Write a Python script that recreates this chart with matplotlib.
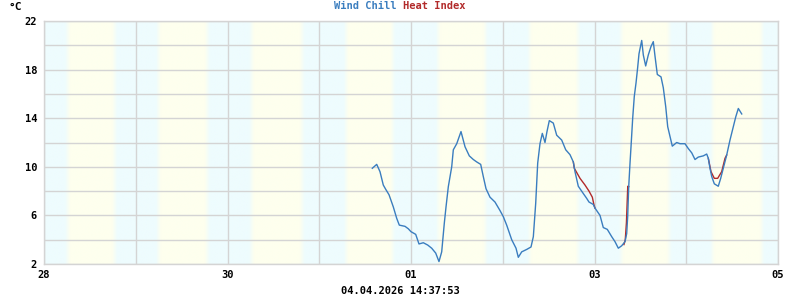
import numpy as np
import matplotlib
matplotlib.use("Agg")
import matplotlib.pyplot as plt

# ---------------- data ----------------
# time axis: hours since 28.03.2026 00:00
day_tick_hours = [0, 48, 96, 144, 192]
day_tick_labels = ["28", "30", "01", "03", "05"]
y_tick_values = [2, 6, 10, 14, 18, 22]

# sunrise / sunset (hour of day) for each of the 8 days shown
sunrise_h = [6.15, 5.9, 6.3, 7.0, 7.1, 7.0, 7.05, 6.9]
sunset_h = [18.45, 18.7, 19.55, 19.25, 19.5, 19.7, 19.6, 19.9]

wind_chill_t = [85.88, 87.03, 87.89, 88.75, 89.38, 90.25, 91.37, 92.26, 92.94, 94.43,
                95.29, 96.0, 97.23, 98.09, 99.22, 100.37, 101.41, 102.46, 103.32, 104.03,
                104.71, 105.16, 105.76, 106.65, 107.07, 107.96, 109.08, 110.13, 111.25, 112.30,
                113.19, 114.23, 114.91, 115.62, 116.66, 117.97, 119.28, 120.14, 121.03, 122.34,
                123.47, 124.07, 124.96, 126.27, 127.39, 128.0, 128.62, 129.14, 129.74, 130.35,
                131.05, 131.57, 132.18, 133.22, 134.11, 135.42, 136.47, 137.59, 138.46, 138.90,
                139.76, 141.07, 141.96, 142.56, 143.69, 144.13, 145.44, 146.30, 147.35, 148.50,
                149.36, 150.23, 151.11, 151.98, 152.42, 152.68, 152.95, 153.29, 153.55, 153.99,
                154.41, 154.86, 155.30, 155.64, 156.35, 156.77, 157.39, 158.07, 158.78, 159.38,
                159.83, 160.43, 161.40, 162.0, 162.63, 163.15, 163.75, 164.35, 165.50, 166.37,
                167.67, 168.54, 169.43, 170.29, 171.15, 172.46, 173.35, 173.77, 174.21, 174.66,
                175.34, 176.38, 177.01, 177.69, 178.58, 179.44, 180.31, 180.94, 181.62, 182.51]
wind_chill_v = [9.88, 10.2, 9.6, 8.5, 8.15, 7.7, 6.7, 5.76, 5.2, 5.1,
                4.9, 4.66, 4.44, 3.65, 3.75, 3.56, 3.3, 2.9, 2.2, 3.0,
                5.35, 6.7, 8.36, 10.0, 11.4, 11.9, 12.9, 11.65, 10.9, 10.6,
                10.4, 10.2, 9.2, 8.2, 7.5, 7.1, 6.4, 5.9, 5.2, 4.0,
                3.3, 2.55, 3.0, 3.2, 3.4, 4.25, 7.0, 10.3, 11.9, 12.75,
                12.0, 12.9, 13.8, 13.6, 12.6, 12.2, 11.4, 11.0, 10.4, 9.6,
                8.4, 7.8, 7.4, 7.1, 6.9, 6.6, 6.0, 5.0, 4.85, 4.25,
                3.84, 3.3, 3.5, 3.84, 4.5, 5.9, 8.36, 10.3, 11.65, 14.0,
                15.8, 16.9, 18.2, 19.3, 20.4, 19.2, 18.3, 19.2, 19.9, 20.3,
                19.1, 17.6, 17.4, 16.5, 14.95, 13.3, 12.5, 11.7, 12.0, 11.9,
                11.9, 11.5, 11.15, 10.6, 10.8, 10.9, 11.05, 10.7, 9.88, 9.2,
                8.6, 8.4, 9.05, 9.88, 10.97, 12.2, 13.3, 14.1, 14.8, 14.35]

# heat index where it departs from wind chill (NaN separates the pieces)
heat_index_t = [138.46, 138.72, 140.21, 141.51, 142.56, 143.43, 143.87, 144.13, np.nan,
                151.70, 152.05, 152.35, 152.70, 152.95, np.nan,
                173.77, 174.48, 175.34, 176.22, 177.27, 178.14, 178.58]
heat_index_v = [10.4, 9.88, 9.05, 8.5, 8.0, 7.5, 6.85, 6.6, np.nan,
                3.6, 4.0, 5.4, 8.4, 8.36, np.nan,
                10.7, 9.6, 9.05, 9.05, 9.6, 10.7, 10.97]

title_parts = ["Wind Chill", "Heat Index"]
unit_label = "°C"
timestamp = "04.04.2026 14:37:53"

# ---------------- style ----------------
BLUE = "#3a7dbf"
RED = "#b22a2a"
GRID = "#d4d4d4"
NIGHT = np.array([238, 252, 254]) / 255.0
DAY = np.array([254, 255, 238]) / 255.0
FONT = "DejaVu Sans Mono"

fig = plt.figure(figsize=(8, 3), dpi=100)
ax = fig.add_axes([44 / 800, 36 / 300, 734 / 800, 243 / 300])

x0, x1 = day_tick_hours[0], day_tick_hours[-1]
ax.set_xlim(x0, x1)
ax.set_ylim(2, 22)

# day/night background with soft transitions
hours = np.linspace(x0, x1, 2000)
w = np.zeros_like(hours)
ramp = 0.65
for d, (sr, ss) in enumerate(zip(sunrise_h, sunset_h)):
    h = hours - 24 * d
    up = np.clip((h - (sr - ramp)) / (2 * ramp), 0, 1)
    down = np.clip(((ss + ramp) - h) / (2 * ramp), 0, 1)
    w = np.maximum(w, np.minimum(up, down) * ((h >= -1) & (h <= 25)))
img = (NIGHT[None, :] * (1 - w[:, None]) + DAY[None, :] * w[:, None])[None, :, :]
ax.imshow(img, extent=[x0, x1, 2, 22], aspect="auto", zorder=0, interpolation="bilinear")

# grid
for yv in np.arange(2, 23, 2):
    ax.axhline(yv, color=GRID, lw=1.0, zorder=1)
for xv in np.arange(x0, x1 + 1, 24):
    ax.axvline(xv, color=GRID, lw=1.0, zorder=1)

ax.plot(heat_index_t, heat_index_v, color=RED, lw=1.0, zorder=2)
ax.plot(wind_chill_t, wind_chill_v, color=BLUE, lw=1.0, zorder=3)

for s in ax.spines.values():
    s.set_color(GRID)
    s.set_linewidth(1.0)

ax.set_xticks(day_tick_hours)
ax.set_xticklabels(day_tick_labels)
ax.set_yticks(y_tick_values)
ax.set_yticklabels([str(v) for v in y_tick_values])
ax.tick_params(length=0, labelsize=7.5, pad=5)
for lab in ax.get_xticklabels() + ax.get_yticklabels():
    lab.set_fontfamily(FONT)
    lab.set_fontweight("bold")
    lab.set_color("black")
ax.tick_params(axis="x", pad=4)

# texts
fig.text(9 / 800, 1 - 7 / 300, unit_label, ha="left", va="center",
         fontsize=8, fontweight="bold", family=FONT)
fig.text(403 / 800, 1 - 6 / 300, title_parts[0] + " ", ha="right", va="center",
         fontsize=7.5, fontweight="bold", family=FONT, color=BLUE)
fig.text(403 / 800, 1 - 6 / 300, title_parts[1], ha="left", va="center",
         fontsize=7.5, fontweight="bold", family=FONT, color=RED)
fig.text(400 / 800, 1 - 291 / 300, timestamp, ha="center", va="center",
         fontsize=7.5, fontweight="bold", family=FONT)

fig.savefig("out.png", dpi=100)
